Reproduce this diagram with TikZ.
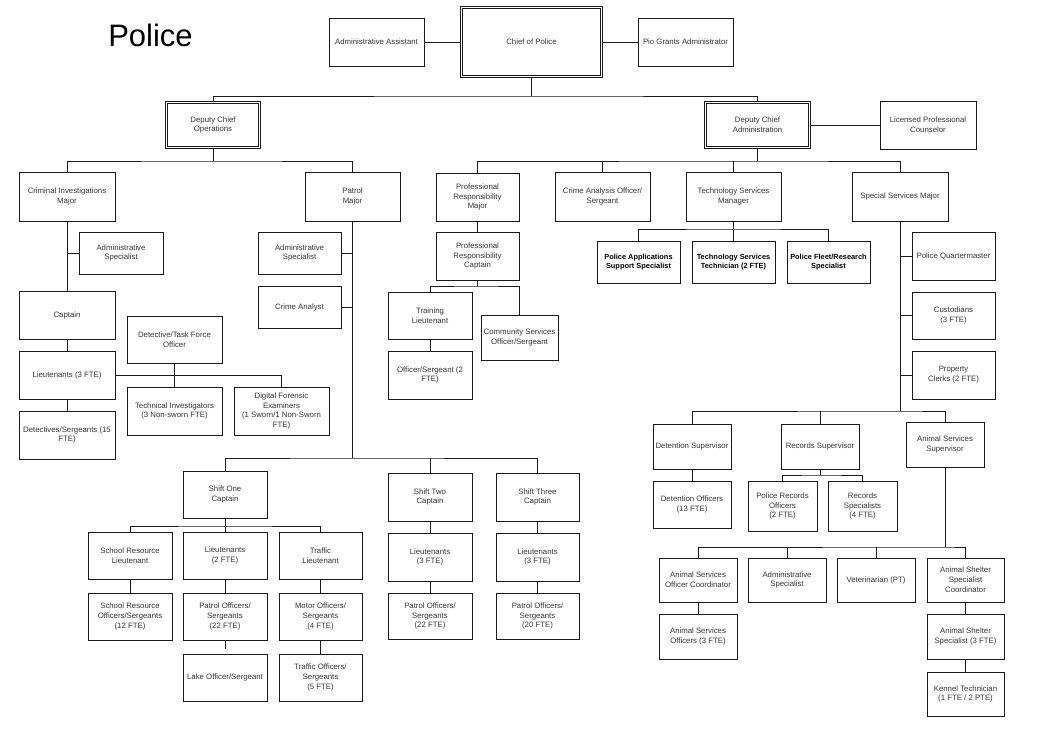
\documentclass[tikz,border=0pt]{standalone}
\usepackage{fontspec}
\setmainfont{Liberation Sans}
\begin{document}
\begin{tikzpicture}[x=1pt,y=-1pt,
  box/.style={draw=black!90,line width=0.95pt,align=center,inner sep=1pt,
    font=\fontsize{7.8}{9.8}\selectfont,text=black!80},
  dbl/.style={double,double distance=1.5pt,line width=0.85pt},
  bld/.style={font=\fontsize{7.4}{9.8}\selectfont\bfseries,text=black},
  conn/.style={line width=0.95pt,draw=black!90}]
\useasboundingbox[fill=white] (0,0) rectangle (1042,743);
\newcommand\bx[7][]{%
  \pgfmathsetmacro\bxcx{(#3+#5)/2}\pgfmathsetmacro\bxcy{(#4+#6)/2}%
  \pgfmathsetmacro\bxw{#5-#3}\pgfmathsetmacro\bxh{#6-#4}%
  \node[box,#1,minimum width=\bxw pt,minimum height=\bxh pt] (#2) at (\bxcx,\bxcy) {#7};}
% title
\node[font=\fontsize{31}{36}\selectfont,text=black] (title) at (150.5,35) {Police};
% top level
\bx{aa}{329}{18}{424}{66}{Administrative Assistant}
\bx[dbl]{chief}{461.7}{7.7}{601.3}{76.3}{Chief of Police}
\bx{pio}{638}{18}{733}{66}{Pio Grants Administrator}
\bx[dbl]{dco}{166.7}{102.7}{259.3}{147.3}{Deputy Chief\\Operations}
\bx[dbl]{dca}{705.7}{102.7}{809.3}{147.3}{Deputy Chief\\Administration}
\bx{lpc}{880}{101}{976}{149}{Licensed Professional\\Counselor}
% majors
\bx{cim}{19}{172}{115}{221}{Criminal Investigations\\Major}
\bx{pm}{305}{172}{400}{221}{Patrol\\Major}
\bx{prm}{436}{173}{519}{221}{Professional\\Responsibility\\Major}
\bx{cao}{555}{172}{650}{221}{Crime Analysis Officer/\\Sergeant}
\bx{tsm}{686}{172}{781}{221}{Technology Services\\Manager}
\bx{ssm}{852}{172}{948}{221}{Special Services Major}
% criminal investigations
\bx{cas}{79}{232}{163}{274}{Administrative\\Specialist}
\bx{cap}{19}{291}{115}{339}{Captain}
\bx{lt3}{19}{351}{115}{399}{Lieutenants (3 FTE)}
\bx{det}{19}{411}{115}{459}{Detectives/Sergeants (15\\FTE)}
\bx{dtf}{127}{316}{222}{363}{Detective/Task Force\\Officer}
\bx{ti}{127}{387}{222}{435}{Technical Investigators\\(3 Non-sworn FTE)}
\bx{dfe}{234}{387}{329}{435}{Digital Forensic\\Examiners\\(1 Sworn/1 Non-Sworn\\FTE)}
% patrol
\bx{pas}{258}{232}{341}{274}{Administrative\\Specialist}
\bx{pca}{258}{286}{341}{328}{Crime Analyst}
\bx{sa}{183}{471}{267}{518}{Shift One\\Captain}
\bx{sb}{388}{473}{472}{521}{Shift Two\\Captain}
\bx{sc}{496}{473}{579}{521}{Shift Three\\Captain}
\bx{srl}{88}{532}{172}{579}{School Resource\\Lieutenant}
\bx{l2}{183}{532}{267}{579}{Lieutenants\\(2 FTE)}
\bx{tl}{279}{532}{362}{579}{Traffic\\Lieutenant}
\bx{sro}{88}{593}{172}{640}{School Resource\\Officers/Sergeants\\(12 FTE)}
\bx{poa}{183}{593}{267}{640}{Patrol Officers/\\Sergeants\\(22 FTE)}
\bx{mo}{279}{593}{362}{640}{Motor Officers/\\Sergeants\\(4 FTE)}
\bx{lake}{183}{654}{267}{701}{Lake Officer/Sergeant}
\bx{to}{279}{654}{362}{701}{Traffic Officers/\\Sergeants\\(5 FTE)}
\bx{lb}{388}{533}{472}{581}{Lieutenants\\(3 FTE)}
\bx{lc}{496}{533}{579}{581}{Lieutenants\\(3 FTE)}
\bx{pob}{388}{593}{472}{639}{Patrol Officers/\\Sergeants\\(22 FTE)}
\bx{poc}{496}{593}{579}{639}{Patrol Officers/\\Sergeants\\(20 FTE)}
% professional responsibility
\bx{prc}{436}{232}{519}{280}{Professional\\Responsibility\\Captain}
\bx{tlt}{388}{292}{472}{339}{Training\\Lieutenant}
\bx{css}{481}{315}{558}{360}{Community Services\\Officer/Sergeant}
\bx{os2}{388}{351}{472}{399}{Officer/Sergeant (2\\FTE)}
% technology
\bx[bld]{pass}{597}{241}{680}{283}{Police Applications\\Support Specialist}
\bx[bld]{tst}{692}{241}{775}{283}{Technology Services\\Technician (2 FTE)}
\bx[bld]{pfr}{787}{241}{870}{283}{Police Fleet/Research\\Specialist}
% special services
\bx{pqm}{912}{232}{995}{280}{Police Quartermaster}
\bx{cust}{912}{292}{995}{339}{Custodians\\(3 FTE)}
\bx{pcl}{912}{351}{995}{399}{Property\\Clerks (2 FTE)}
\bx{dsup}{653}{424}{731}{469}{Detention Supervisor}
\bx{rsup}{781}{424}{859}{469}{Records Supervisor}
\bx{asup}{906}{422}{984}{467}{Animal Services\\Supervisor}
\bx{dof}{653}{481}{731}{528}{Detention Officers\\(13 FTE)}
\bx{pro}{748}{481}{817}{531}{Police Records\\Officers\\(2 FTE)}
\bx{rsp}{828}{481}{897}{531}{Records\\Specialists\\(4 FTE)}
\bx{asoc}{659}{558}{737}{602}{Animal Services\\Officer Coordinator}
\bx{aadm}{748}{558}{826}{602}{Administrative\\Specialist}
\bx{vet}{837}{558}{915}{602}{Veterinarian (PT)}
\bx{assc}{927}{558}{1004}{602}{Animal Shelter\\Specialist\\Coordinator}
\bx{aso}{659}{614}{737}{659}{Animal Services\\Officers (3 FTE)}
\bx{ass}{927}{614}{1004}{659}{Animal Shelter\\Specialist (3 FTE)}
\bx{kt}{927}{672}{1004}{716}{Kennel Technician\\(1 FTE / 2 PTE)}
% bus coordinates
\coordinate (b0) at (531.5,96);
\coordinate (b1) at (213,161);
\coordinate (b2) at (757.5,161);
\coordinate (b3) at (352.5,458);
\coordinate (b4) at (225,526);
\coordinate (b5) at (477.5,286);
\coordinate (b6) at (733.5,229);
\coordinate (b7) at (900,411);
\coordinate (b8) at (820,475);
\coordinate (b9) at (945,547);
\coordinate (stub) at (225,649);
\begin{scope}[conn]
\draw (aa.east) -- (chief.west);
\draw (chief.east) -- (pio.west);
\draw (chief.south) -- (b0);
\draw (dco.north) |- (b0) -| (dca.north);
\draw (dca.east) -- (lpc.west);
\draw (dco.south) -- (b1);
\draw (cim.north) |- (b1) -| (pm.north);
\draw (dca.south) -- (b2);
\draw (prm.north) |- (b2) -| (ssm.north);
\draw (cao.north) -- (cao.north |- b2);
\draw (tsm.north) -- (tsm.north |- b2);
% criminal investigations
\draw (cim.south) -- (cap.north);
\draw (cas.west) -- (cas.west -| cim.south);
\draw (cap.south) -- (lt3.north);
\draw (lt3.south) -- (det.north);
\draw (lt3.east) -| (dfe.north);
\draw (dtf.south) -- (ti.north);
% patrol
\draw (pm.south) -- (b3);
\draw (pas.east) -- (pas.east -| pm.south);
\draw (pca.east) -- (pca.east -| pm.south);
\draw (sa.north) |- (b3) -| (sc.north);
\draw (sb.north) -- (sb.north |- b3);
\draw (sa.south) -- (b4);
\draw (srl.north) |- (b4) -| (tl.north);
\draw (l2.north) -- (b4);
\draw (srl.south) -- (sro.north);
\draw (l2.south) -- (poa.north);
\draw (poa.south) -- (stub);
\draw (tl.south) -- (mo.north);
\draw (mo.south) -- (to.north);
\draw (sb.south) -- (lb.north);
\draw (lb.south) -- (pob.north);
\draw (sc.south) -- (lc.north);
\draw (lc.south) -- (poc.north);
% professional responsibility
\draw (prm.south) -- (prc.north);
\draw (prc.south) -- (b5);
\draw (tlt.north) |- (b5) -| (css.north);
\draw (tlt.south) -- (os2.north);
% technology
\draw (tsm.south) -- (b6);
\draw (pass.north) |- (b6) -| (pfr.north);
\draw (tst.north) -- (b6);
% special services
\draw (ssm.south) -- (b7);
\draw (pqm.west) -- (pqm.west -| ssm.south);
\draw (cust.west) -- (cust.west -| ssm.south);
\draw (pcl.west) -- (pcl.west -| ssm.south);
\draw (dsup.north) |- (b7) -| (asup.north);
\draw (rsup.north) -- (rsup.north |- b7);
\draw (dsup.south) -- (dof.north);
\draw (rsup.south) -- (b8);
\draw (pro.north) |- (b8) -| (rsp.north);
\draw (asup.south) -- (b9);
\draw (asoc.north) |- (b9) -| (assc.north);
\draw (aadm.north) -- (aadm.north |- b9);
\draw (vet.north) -- (vet.north |- b9);
\draw (asoc.south) -- (aso.north);
\draw (assc.south) -- (ass.north);
\draw (ass.south) -- (kt.north);
\end{scope}
\end{tikzpicture}
\end{document}
